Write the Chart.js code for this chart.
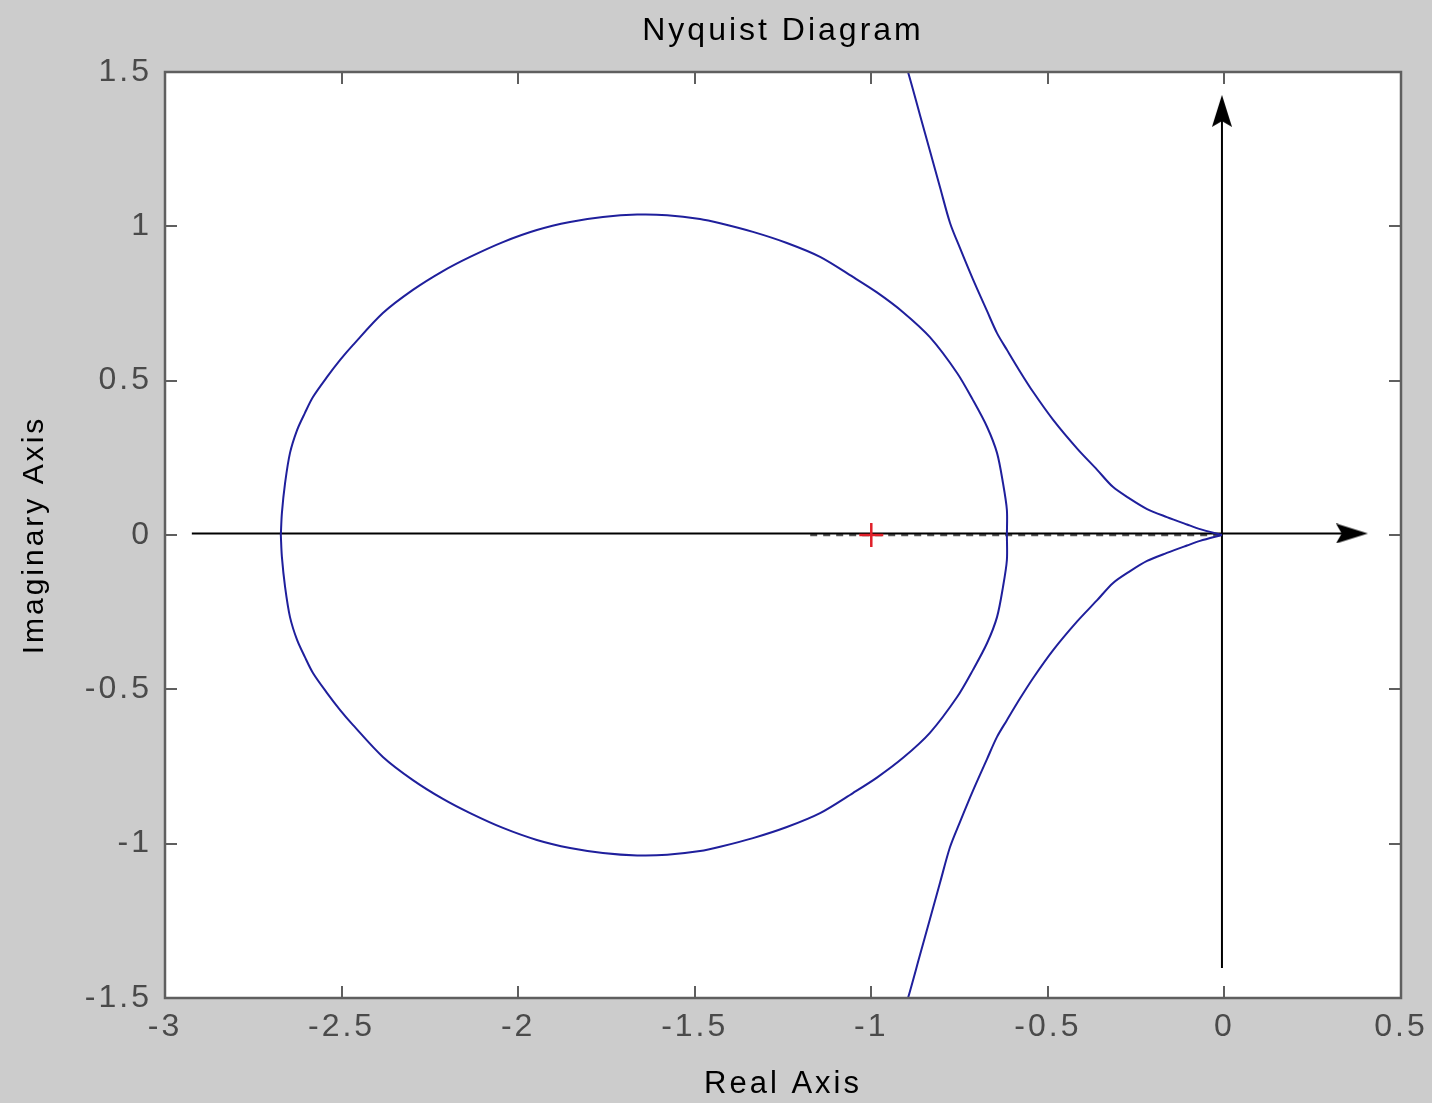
<!DOCTYPE html>
<html>
<head>
<meta charset="utf-8">
<title>Nyquist Diagram</title>
<script src="https://cdn.jsdelivr.net/npm/chart.js@4.4.1/dist/chart.umd.min.js"></script>
<style>
  html, body { margin: 0; padding: 0; background: #cccccc; }
  canvas { display: block; }
</style>
</head>
<body>
<canvas id="nyquist" width="1432" height="1103"></canvas>
<script>
/* ---- axis ranges and ticks ---- */
const RE_TICKS = [-3, -2.5, -2, -1.5, -1, -0.5, 0, 0.5];
const IM_TICKS = [-1.5, -1, -0.5, 0, 0.5, 1, 1.5];

/* ---- closed loop: upper half, left crossing -> right crossing ---- */
const loopUpperRe = [-2.672, -2.669, -2.660, -2.646, -2.626, -2.604, -2.581, -2.541, -2.504, -2.468,
  -2.383, -2.298, -2.213, -2.136, -2.043, -1.947, -1.853, -1.760, -1.663, -1.578,
  -1.485, -1.428, -1.335, -1.239, -1.145, -1.052, -0.984, -0.910, -0.834, -0.757,
  -0.712, -0.672, -0.644, -0.627, -0.616, -0.616];
const loopUpperIm = [0, 0.071, 0.168, 0.266, 0.340, 0.395, 0.447, 0.512, 0.567, 0.615,
  0.719, 0.794, 0.855, 0.901, 0.949, 0.988, 1.014, 1.030, 1.038, 1.036,
  1.024, 1.010, 0.982, 0.946, 0.901, 0.836, 0.786, 0.722, 0.641, 0.525,
  0.437, 0.350, 0.266, 0.168, 0.081, 0];

/* ---- closed loop: lower half, right crossing -> left crossing ---- */
const loopLowerRe = [-0.616, -0.616, -0.627, -0.644, -0.672, -0.712, -0.757, -0.834, -0.910, -0.984,
  -1.052, -1.145, -1.239, -1.335, -1.428, -1.485, -1.578, -1.663, -1.760, -1.853,
  -1.947, -2.043, -2.136, -2.213, -2.298, -2.383, -2.468, -2.504, -2.541, -2.581,
  -2.604, -2.626, -2.646, -2.660, -2.669, -2.672];
const loopLowerIm = [0, -0.081, -0.168, -0.266, -0.350, -0.437, -0.525, -0.641, -0.722, -0.786,
  -0.836, -0.901, -0.946, -0.982, -1.010, -1.024, -1.036, -1.038, -1.030, -1.014,
  -0.988, -0.949, -0.901, -0.855, -0.794, -0.719, -0.615, -0.567, -0.512, -0.447,
  -0.395, -0.340, -0.266, -0.168, -0.071, 0];

/* ---- open branch above the real axis (comes in from the top, ends at the origin) ---- */
const branchUpperRe = [-0.911, -0.896, -0.862, -0.834, -0.805, -0.777, -0.749, -0.712, -0.672, -0.644,
  -0.616, -0.579, -0.542, -0.485, -0.417, -0.361, -0.316, -0.267, -0.219, -0.163,
  -0.106, -0.069, -0.007];
const branchUpperIm = [1.55, 1.5, 1.36, 1.245, 1.125, 1.011, 0.930, 0.828, 0.725, 0.654,
  0.600, 0.530, 0.464, 0.373, 0.280, 0.212, 0.156, 0.117, 0.084, 0.058,
  0.034, 0.019, 0];

/* ---- open branch below the real axis (leaves the origin, exits at the bottom) ---- */
const branchLowerRe = [-0.007, -0.069, -0.106, -0.163, -0.219, -0.267, -0.316, -0.361, -0.417, -0.485,
  -0.542, -0.579, -0.616, -0.644, -0.672, -0.712, -0.749, -0.777, -0.805, -0.834,
  -0.862, -0.896, -0.911];
const branchLowerIm = [0, -0.019, -0.034, -0.058, -0.084, -0.117, -0.156, -0.212, -0.280, -0.373,
  -0.464, -0.530, -0.600, -0.654, -0.725, -0.828, -0.930, -1.011, -1.125, -1.245,
  -1.36, -1.5, -1.55];

/* ---- reference lines: dashed segment on the real axis, -1 critical point ---- */
const dashRe = [-1.173, 0];
const dashIm = [0, 0];
const criticalRe = [-1];
const criticalIm = [0];

/* ---- arrowed coordinate axes ---- */
const realArrowRe = [-2.924, 0.345];
const realArrowIm = [0.005, 0.005];
const realHeadRe = [0.361];
const realHeadIm = [0.005];
const imagArrowRe = [-0.007, -0.007];
const imagArrowIm = [-1.403, 1.36];
const imagHeadRe = [-0.007];
const imagHeadIm = [1.374];

const CURVE_COLOR = '#1f1f9c';
const FRAME_COLOR = '#5f5f5f';
const LABEL_COLOR = '#4a4a4a';
const FONT = "'Liberation Sans', Arial, sans-serif";

const zip = (xs, ys) => xs.map((x, i) => ({ x, y: ys[i] }));

/* arrowhead sprite pointing right; rotated for the vertical axis */
function makeArrowHead(len, wide) {
  const c = document.createElement('canvas');
  c.width = len;
  c.height = wide;
  const g = c.getContext('2d');
  g.fillStyle = '#000';
  g.beginPath();
  g.moveTo(len, wide / 2);
  g.lineTo(0, 0);
  g.lineTo(len * 0.18, wide / 2);
  g.lineTo(0, wide);
  g.closePath();
  g.fill();
  return c;
}
const arrowHead = makeArrowHead(32, 20);

/* wide-set lettering for every label on the canvas */
const letterSpacing = {
  id: 'letterSpacing',
  beforeUpdate(chart) { chart.ctx.letterSpacing = '3px'; },
  beforeDraw(chart) { chart.ctx.letterSpacing = '3px'; },
};

/* white plotting box */
const plotBackground = {
  id: 'plotBackground',
  beforeDraw(chart) {
    const { ctx, chartArea: a } = chart;
    ctx.save();
    ctx.fillStyle = '#ffffff';
    ctx.fillRect(a.left, a.top, a.right - a.left, a.bottom - a.top);
    ctx.restore();
  },
};

/* box frame with inward tick marks on all four sides */
const boxFrame = {
  id: 'boxFrame',
  afterDraw(chart) {
    const { ctx, chartArea: a, scales } = chart;
    const len = 12;
    ctx.save();
    ctx.strokeStyle = FRAME_COLOR;
    ctx.lineWidth = 2;
    ctx.beginPath();
    RE_TICKS.forEach((v) => {
      const px = Math.round(scales.x.getPixelForValue(v));
      ctx.moveTo(px, a.top); ctx.lineTo(px, a.top + len);
      ctx.moveTo(px, a.bottom); ctx.lineTo(px, a.bottom - len);
    });
    IM_TICKS.forEach((v) => {
      const py = Math.round(scales.y.getPixelForValue(v));
      ctx.moveTo(a.left, py); ctx.lineTo(a.left + len, py);
      ctx.moveTo(a.right, py); ctx.lineTo(a.right - len, py);
    });
    ctx.stroke();
    ctx.lineWidth = 2.5;
    ctx.strokeRect(a.left, a.top, a.right - a.left, a.bottom - a.top);
    ctx.restore();
  },
};

const curve = (data, order) => ({
  data, order,
  showLine: true,
  borderColor: CURVE_COLOR,
  borderWidth: 2,
  pointRadius: 0,
  tension: 0.3,
});

new Chart(document.getElementById('nyquist'), {
  type: 'scatter',
  data: {
    datasets: [
      curve(zip(loopUpperRe, loopUpperIm).concat(zip(loopLowerRe, loopLowerIm)), 1),
      curve(zip(branchUpperRe, branchUpperIm), 1),
      curve(zip(branchLowerRe, branchLowerIm), 1),
      {
        data: zip(criticalRe, criticalIm), order: 2,
        pointStyle: 'cross', pointRadius: 12, pointBorderWidth: 2.5,
        pointBorderColor: '#e0202a', pointBackgroundColor: '#e0202a',
      },
      {
        data: zip(realHeadRe, realHeadIm), order: 3,
        pointStyle: arrowHead, rotation: 0,
      },
      {
        data: zip(imagHeadRe, imagHeadIm), order: 3,
        pointStyle: arrowHead, rotation: -90,
      },
      {
        data: zip(realArrowRe, realArrowIm), order: 4,
        showLine: true, borderColor: '#000', borderWidth: 2, pointRadius: 0,
      },
      {
        data: zip(imagArrowRe, imagArrowIm), order: 4,
        showLine: true, borderColor: '#000', borderWidth: 2, pointRadius: 0,
      },
      {
        data: zip(dashRe, dashIm), order: 5,
        showLine: true, borderColor: '#555', borderWidth: 2.5, borderDash: [7, 6], pointRadius: 0,
      },
    ],
  },
  options: {
    responsive: false,
    animation: false,
    events: [],
    layout: { padding: { top: 0, right: 31, bottom: 0, left: 0 } },
    plugins: {
      legend: { display: false },
      tooltip: { enabled: false },
      title: {
        display: true,
        text: 'Nyquist Diagram',
        color: '#000',
        fullSize: false,
        font: { family: FONT, size: 32, weight: 'normal', lineHeight: 1.2 },
        padding: { top: 12, bottom: 21.6 },
      },
    },
    scales: {
      x: {
        type: 'linear',
        min: -3, max: 0.5,
        afterFit: (s) => { s.height = 105; s.paddingLeft = 0; s.paddingRight = 0; },
        afterBuildTicks: (s) => { s.ticks = RE_TICKS.map((v) => ({ value: v })); },
        grid: { display: false, drawTicks: false },
        border: { display: false },
        ticks: {
          color: LABEL_COLOR, padding: 10, maxRotation: 0, autoSkip: false,
          font: { family: FONT, size: 32 },
          callback: (v) => String(v),
        },
        title: {
          display: true, text: 'Real Axis', color: '#000',
          font: { family: FONT, size: 31, lineHeight: 1.2 },
          padding: { top: 0, bottom: 0 },
        },
      },
      y: {
        type: 'linear',
        min: -1.5, max: 1.5,
        afterFit: (s) => { s.width = 165; s.paddingTop = 0; s.paddingBottom = 0; },
        afterBuildTicks: (s) => { s.ticks = IM_TICKS.map((v) => ({ value: v })); },
        grid: { display: false, drawTicks: false },
        border: { display: false },
        ticks: {
          color: LABEL_COLOR, padding: 13, autoSkip: false,
          font: { family: FONT, size: 32 },
          callback: (v) => String(v),
        },
        title: {
          display: true, text: 'Imaginary Axis', color: '#000',
          font: { family: FONT, size: 30, lineHeight: 1.2 },
          padding: { top: 17, bottom: 0 },
        },
      },
    },
  },
  plugins: [letterSpacing, plotBackground, boxFrame],
});
</script>
</body>
</html>
